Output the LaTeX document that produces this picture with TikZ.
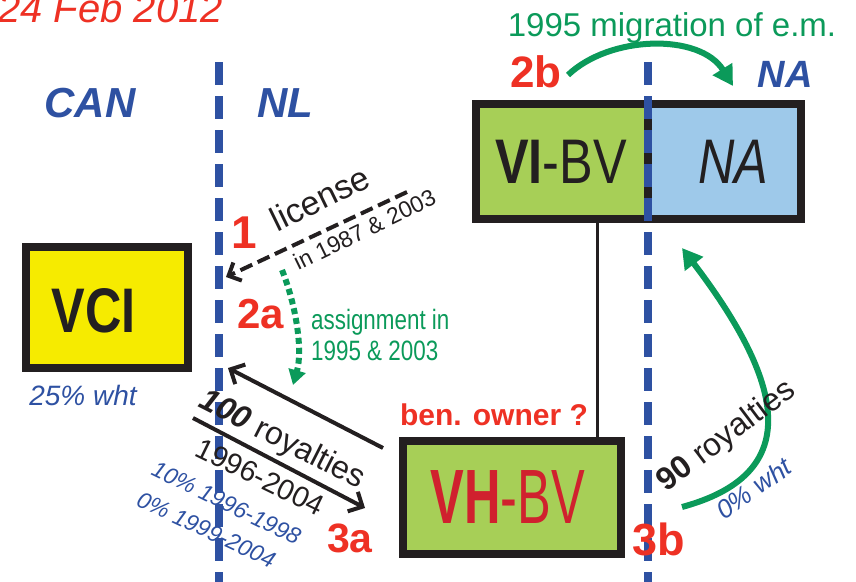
\documentclass[tikz,border=0pt]{standalone}
\usepackage{fontspec}
\usepackage{graphicx}
\setmainfont{Liberation Sans}
\newfontfamily\condsans[FakeStretch=0.8]{Liberation Sans}
\usetikzlibrary{arrows.meta}

\definecolor{ink}{HTML}{231F20}
\definecolor{ctryblue}{HTML}{2E51A2}
\definecolor{lblred}{HTML}{EE3124}
\definecolor{vhred}{HTML}{D0212E}
\definecolor{flowgreen}{HTML}{0B9A5A}
\definecolor{boxgreen}{HTML}{A7CF57}
\definecolor{boxblue}{HTML}{9EC9EA}
\definecolor{boxyellow}{HTML}{F6EB00}

\tikzset{
  entity/.style={draw=ink, line width=8pt, inner sep=0pt},
  boxlabel/.style={inner sep=0pt, text=ink},
  steplabel/.style={text=lblred, anchor=base, inner sep=0pt,
    font=\bfseries\fontsize{#1}{#1}\selectfont},
  country/.style={text=ctryblue, anchor=base, inner sep=0pt,
    font=\bfseries\itshape\fontsize{#1}{#1}\selectfont},
  plain/.style={anchor=base, inner sep=0pt, text=ink,
    font=\fontsize{#1}{#1}\selectfont},
  taxnote/.style={anchor=base, inner sep=0pt, text=ctryblue,
    font=\itshape\fontsize{#1}{#1}\selectfont},
  border/.style={ctryblue, line width=8pt, dash pattern=on 23pt off 11pt},
  payflow/.style={ink, line width=4pt, -{Straight Barb[length=11pt,width=22pt]}},
  licflow/.style={ink, line width=4pt, dash pattern=on 13pt off 6pt,
    -{Straight Barb[length=10pt,width=20pt]}},
  greenflow/.style={flowgreen, line width=6pt, -{Triangle[length=20pt,width=22pt]}},
  assignflow/.style={flowgreen, line width=6pt, dash pattern=on 6pt off 4pt,
    -{Triangle[length=15pt,width=17pt]}},
}

\begin{document}
\begin{tikzpicture}[x=1pt, y=-1pt]
\useasboundingbox (0,0) rectangle (856,581);
\clip (0,0) rectangle (856,581);

% date stamp
\node[anchor=base west, inner sep=0pt, text=lblred,
  font=\itshape\fontsize{40}{40}\selectfont] (date) at (-2,22) {24 Feb 2012};

% jurisdictions
\node[country=42] (can) at (90,117) {CAN};
\node[country=42] (nl) at (285,117) {NL};
\node[country=38] (natop) at (785,87) {NA};

% entities
\node[entity, fill=boxyellow, minimum width=162pt, minimum height=121pt] (vci) at (107,307.5) {};
\node[entity, fill=boxgreen, minimum width=172pt, minimum height=115pt] (vibv) at (562,161.5) {};
\node[entity, fill=boxblue, minimum width=153pt, minimum height=115pt] (na) at (724.5,161.5) {};
\node[entity, fill=boxgreen, minimum width=218pt, minimum height=113pt] (vhbv) at (512,497.5) {};

\node[boxlabel, font=\condsans\fontsize{63}{63}\selectfont] (vcilabel) at (94,311) {\bfseries VCI};
\node[boxlabel, font=\condsans\fontsize{63}{63}\selectfont] (vibvlabel) at (561,162) {\textbf{VI}-BV};
\node[boxlabel, font=\condsans\itshape\fontsize{63}{63}\selectfont] (nalabel) at (733,162) {NA};
\node[boxlabel, text=vhred, font=\condsans\fontsize{77}{77}\selectfont] (vhbvlabel) at (508,497)
  {\scalebox{0.82}[1]{\textbf{VH}-BV}};

% ownership link
\coordinate (link) at (597,0);
\draw[ink, line width=3pt] (vibv.south -| link) -- (vhbv.north -| link);

% borders
\coordinate (nlN) at (219,62);
\coordinate (nlS) at (219,590);
\coordinate (naN) at (648,62);
\coordinate (naS) at (648,590);
\draw[border] (nlN) -- (nlS);
\draw[border] (naN) -- (naS);

% step numbers
\node[steplabel=46] (s1) at (244,248) {1};
\node[steplabel=42] (s2a) at (261,328) {2a};
\node[steplabel=44] (s2b) at (536,87) {2b};
\node[steplabel=41] (s3a) at (350,552) {3a};
\node[steplabel=45] (s3b) at (659,555) {3b};

% licence
\coordinate (licstart) at (407,192);
\coordinate (lictip) at (226,277);
\draw[licflow] (licstart) -- (lictip);
\node[plain=34, rotate=26] (lic) at (325,209) {license};
\node[plain=23, rotate=26] (licyears) at (368,237) {in 1987 \& 2003};

% assignment
\coordinate (asgstart) at (282,270);
\coordinate (asgtip) at (293,385);
\draw[assignflow] (asgstart) .. controls (296,305) and (303,350) .. (asgtip);
\node[anchor=base west, inner sep=0pt, text=flowgreen,
  font=\condsans\fontsize{28}{28}\selectfont] (asg1) at (311,329) {assignment in};
\node[anchor=base west, inner sep=0pt, text=flowgreen,
  font=\condsans\fontsize{28}{28}\selectfont] (asg2) at (311,360) {1995 \& 2003};

% migration
\coordinate (migstart) at (568,75);
\coordinate (migtip) at (733,86);
\draw[greenflow] (migstart) .. controls (610,35) and (700,33) .. (migtip);
\node[anchor=base, inner sep=0pt, text=flowgreen,
  font=\fontsize{33}{33}\selectfont] (mig) at (672,36) {1995 migration of e.m.};

% royalties to NL
\coordinate (roystart) at (383,448);
\coordinate (roytip) at (228,368);
\draw[payflow] (roystart) -- (roytip);
\coordinate (royback) at (193,418);
\coordinate (roybacktip) at (365,508);
\draw[payflow] (royback) -- (roybacktip);
\node[plain=32, rotate=-27] (roy100) at (278,448) {\textbf{\textit{100}} royalties};
\node[plain=29, rotate=-26] (royyears) at (256,486) {1996-2004};
\node[taxnote=23, rotate=-26] (wht1) at (223,510) {10\% 1996-1998};
\node[taxnote=23, rotate=-25] (wht2) at (203,537) {0\% 1999-2004};
\node[taxnote=28] (wht25) at (83,405) {25\% wht};

% royalties to NA
\coordinate (nastart) at (682,507);
\coordinate (natip) at (682,248);
\draw[greenflow] (nastart) .. controls (800,475) and (790,390) .. (natip);
\node[plain=32, rotate=37] (roy90) at (732,443) {\textbf{90} royalties};
\node[taxnote=26, rotate=35] (wht0) at (759,496) {0\% wht};

% beneficial ownership
\node[anchor=base, inner sep=0pt, text=lblred,
  font=\bfseries\fontsize{30}{30}\selectfont] (benown) at (494,425) {ben. owner ?};
\end{tikzpicture}
\end{document}
